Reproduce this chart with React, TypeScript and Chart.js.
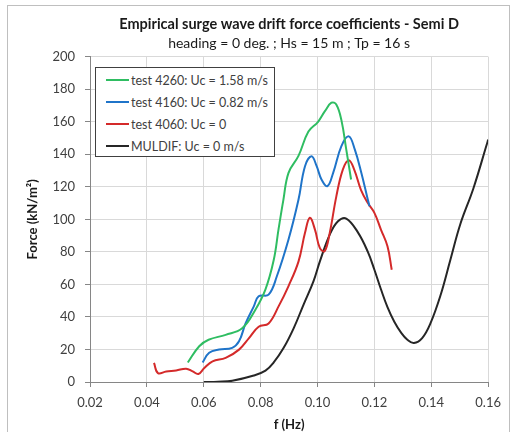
import React, { useEffect, useRef } from "react";
import { Chart, registerables } from "chart.js";

Chart.register(...registerables);

const titleText = "Empirical surge wave drift force coefficients - Semi D";
const subtitleText = "heading = 0 deg. ; Hs = 15 m ; Tp = 16 s";
const xTitle = "f (Hz)";
const yTitle = "Force (kN/m²)";

const seriesNames = [
  "test 4260: Uc = 1.58 m/s",
  "test 4160: Uc = 0.82 m/s",
  "test 4060: Uc = 0",
  "MULDIF: Uc = 0 m/s",
];
const seriesColors = ["#2fbd62", "#1f74c9", "#d42a2a", "#262626"];

const f4260 = [0.0544, 0.0584, 0.0617, 0.0677, 0.0735, 0.078, 0.0817, 0.0846, 0.0863, 0.088, 0.0898, 0.0933, 0.0968, 0.1002, 0.1026, 0.1049, 0.1066, 0.1084, 0.1101, 0.1118];
const F4260 = [12, 22, 26, 29, 33, 44, 57, 75, 94, 112, 128.6, 139, 154, 160, 166.5, 171.7, 170.6, 161, 143, 124.5];

const f4160 = [0.0596, 0.0619, 0.0654, 0.07, 0.0724, 0.0747, 0.0776, 0.0793, 0.0828, 0.0857, 0.0898, 0.0933, 0.0956, 0.0979, 0.0997, 0.1014, 0.1035, 0.1055, 0.1084, 0.111, 0.1131, 0.1154, 0.1177, 0.1183];
const F4160 = [12, 18, 20, 21, 25, 36, 46.5, 52.7, 53.7, 65, 87.6, 112, 132.7, 138.8, 132.7, 124.5, 120.4, 128.6, 145, 151, 143, 128.6, 112, 108];

const f4060 = [0.0425, 0.0439, 0.0468, 0.0503, 0.0538, 0.0561, 0.0581, 0.0602, 0.0631, 0.0677, 0.0724, 0.0759, 0.0793, 0.0828, 0.0863, 0.0898, 0.0933, 0.0956, 0.0973, 0.0991, 0.1008, 0.1025, 0.1043, 0.1066, 0.1089, 0.111, 0.1129, 0.1153, 0.1177, 0.12, 0.1223, 0.1246, 0.1261];
const F4060 = [11.7, 5.5, 6.5, 7.1, 8.2, 6.5, 4.9, 8.6, 12.7, 14.8, 19.9, 27, 34, 36, 46.5, 59, 74, 91.7, 101, 93.7, 82.5, 80.4, 91.7, 114, 130.6, 136.4, 130.6, 118, 110, 104, 93.7, 83.4, 69];

const fMuldif = [0.06, 0.065, 0.07, 0.0776, 0.0817, 0.0846, 0.0881, 0.0916, 0.0951, 0.0986, 0.1008, 0.1043, 0.1072, 0.1101, 0.1142, 0.1177, 0.12, 0.1223, 0.1246, 0.127, 0.1295, 0.1316, 0.1339, 0.1368, 0.1397, 0.1432, 0.1467, 0.1502, 0.1548, 0.1595, 0.16];
const FMuldif = [0, 0.2, 0.8, 4, 7, 12, 21, 33, 47.6, 62, 74, 90.6, 98.8, 100.5, 92, 80, 69, 57, 46, 37, 30, 26, 24, 27, 36, 53, 75, 97, 119, 146, 149];

const xMin = 0.02;
const xMax = 0.16;
const xStep = 0.02;
const yMin = 0;
const yMax = 200;
const yStep = 20;

const FONT = "Lato, 'Open Sans', sans-serif";

function pts(xs: number[], ys: number[]) {
  return xs.map((x, i) => ({ x, y: ys[i] }));
}

export default function App() {
  const canvasRef = useRef<HTMLCanvasElement | null>(null);

  useEffect(() => {
    const canvas = canvasRef.current;
    if (!canvas) return;
    const data = [
      pts(f4260, F4260),
      pts(f4160, F4160),
      pts(f4060, F4060),
      pts(fMuldif, FMuldif),
    ];
    const chart = new Chart(canvas, {
      type: "line",
      data: {
        datasets: data.map((d, i) => ({
          label: seriesNames[i],
          data: d,
          borderColor: seriesColors[i],
          backgroundColor: seriesColors[i],
          borderWidth: 2,
          pointRadius: 0,
          fill: false,
          tension: 0.4,
        })),
      },
      options: {
        animation: false,
        responsive: false,
        layout: { padding: { left: 0, right: 17, top: 0, bottom: 0 } },
        plugins: {
          legend: { display: false },
          tooltip: { enabled: false },
          title: {
            display: true,
            text: titleText,
            fullSize: false,
            color: "#1a1a1a",
            font: { family: FONT, size: 14.5, weight: "bold" },
            padding: { top: 10, bottom: 1.5 },
          },
          subtitle: {
            display: true,
            text: subtitleText,
            fullSize: false,
            color: "#1a1a1a",
            font: { family: FONT, size: 14 },
            padding: { top: 0, bottom: 5 },
          },
        },
        scales: {
          x: {
            type: "linear",
            min: xMin,
            max: xMax,
            afterFit: (s: any) => {
              s.height = 52;
            },
            ticks: {
              stepSize: xStep,
              padding: 8,
              color: "#404040",
              font: { family: FONT, size: 13 },
              callback: (v: any) => Number(v).toFixed(2),
            },
            grid: { color: "#d9d9d9", tickColor: "#868686", tickLength: 5 },
            border: { color: "#868686", width: 1 },
            title: {
              display: true,
              text: xTitle,
              color: "#1a1a1a",
              font: { family: FONT, size: 13, weight: "bold" },
              padding: { top: 0, bottom: 1 },
            },
          },
          y: {
            type: "linear",
            min: yMin,
            max: yMax,
            afterFit: (s: any) => {
              s.width = 82;
            },
            ticks: {
              stepSize: yStep,
              padding: 10,
              color: "#404040",
              font: { family: FONT, size: 13 },
            },
            grid: { color: "#d9d9d9", tickColor: "#868686", tickLength: 5 },
            border: { color: "#868686", width: 1 },
            title: {
              display: true,
              text: yTitle,
              color: "#1a1a1a",
              font: { family: FONT, size: 13, weight: "bold" },
              padding: { top: 17, bottom: 0 },
            },
          },
        },
      },
    } as any);
    return () => chart.destroy();
  }, []);

  return (
    <div
      style={{
        position: "fixed",
        left: 7,
        top: 5,
        width: 503,
        height: 430,
        border: "1px solid #bfbfbf",
        boxSizing: "border-box",
        background: "#fff",
      }}
    >
      <canvas ref={canvasRef} width={501} height={428} style={{ display: "block" }} />
      <div
        style={{
          position: "absolute",
          left: 87,
          top: 61,
          width: 180,
          height: 90,
          border: "1px solid #404040",
          boxSizing: "border-box",
          background: "#fff",
          paddingTop: 1,
          fontFamily: FONT,
          fontSize: 12.5,
          color: "#404040",
        }}
      >
        {seriesNames.map((n, i) => (
          <div key={n} style={{ display: "flex", alignItems: "center", height: 22, paddingLeft: 10 }}>
            <span style={{ display: "inline-block", width: 23, height: 2, background: seriesColors[i], marginRight: 2 }} />
            <span style={{ whiteSpace: "nowrap" }}>{n}</span>
          </div>
        ))}
      </div>
    </div>
  );
}
